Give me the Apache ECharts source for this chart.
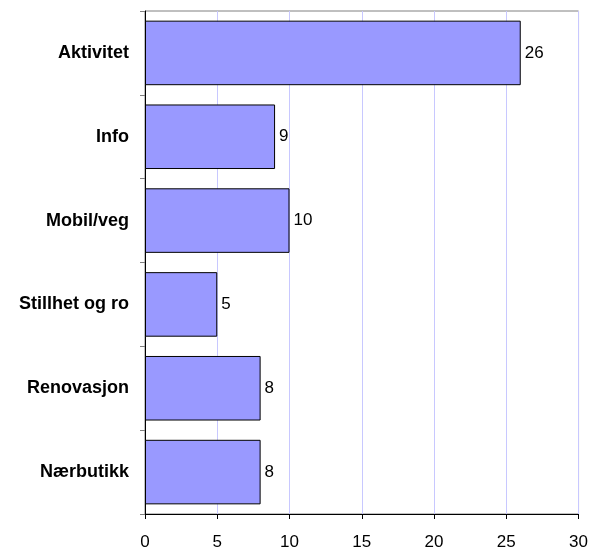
<!DOCTYPE html>
<html>
<head>
<meta charset="utf-8">
<script src="https://cdn.jsdelivr.net/npm/echarts@6/dist/echarts.min.js"></script>
<style>
  html, body { margin: 0; padding: 0; background: #fff; }
  #chart { width: 591px; height: 551px; }
</style>
</head>
<body>
<div id="chart"></div>
<script>
const categories = ['Aktivitet', 'Info', 'Mobil/veg', 'Stillhet og ro', 'Renovasjon', 'Nærbutikk']
const values = [26, 9, 10, 5, 8, 8]
const xTicks = { min: 0, max: 30, interval: 5 }

const chart = echarts.init(document.getElementById('chart'))

chart.setOption({
  animation: false,
  grid: {
    left: 145,
    right: 10,
    top: 11,
    bottom: 32,
    show: true,
    borderColor: '#808080',
    borderWidth: 1,
    backgroundColor: '#fff'
  },
  xAxis: {
    type: 'value',
    min: xTicks.min,
    max: xTicks.max,
    interval: xTicks.interval,
    axisLine: { show: true, lineStyle: { color: '#000', width: 1 } },
    axisTick: { show: true, length: 5, lineStyle: { color: '#000' } },
    axisLabel: {
      color: '#000',
      fontFamily: 'Liberation Sans, Arial, sans-serif',
      fontSize: 17,
      margin: 20
    },
    splitLine: { show: true, lineStyle: { color: '#c8c8ff', width: 1 } }
  },
  yAxis: {
    type: 'category',
    data: categories,
    inverse: true,
    axisLine: { show: true, lineStyle: { color: '#000', width: 1 } },
    axisTick: { show: true, length: 5, lineStyle: { color: '#808080' } },
    axisLabel: {
      color: '#000',
      fontFamily: 'Liberation Sans, Arial, sans-serif',
      fontSize: 18,
      fontWeight: 'bold',
      margin: 16
    },
    splitLine: { show: false }
  },
  series: [
    {
      type: 'bar',
      data: values,
      barCategoryGap: '23%',
      itemStyle: {
        color: '#9999ff',
        borderColor: '#000',
        borderWidth: 1
      },
      label: {
        show: true,
        position: 'right',
        distance: 4,
        color: '#000',
        fontFamily: 'Liberation Sans, Arial, sans-serif',
        fontSize: 17
      }
    }
  ]
})
</script>
</body>
</html>
